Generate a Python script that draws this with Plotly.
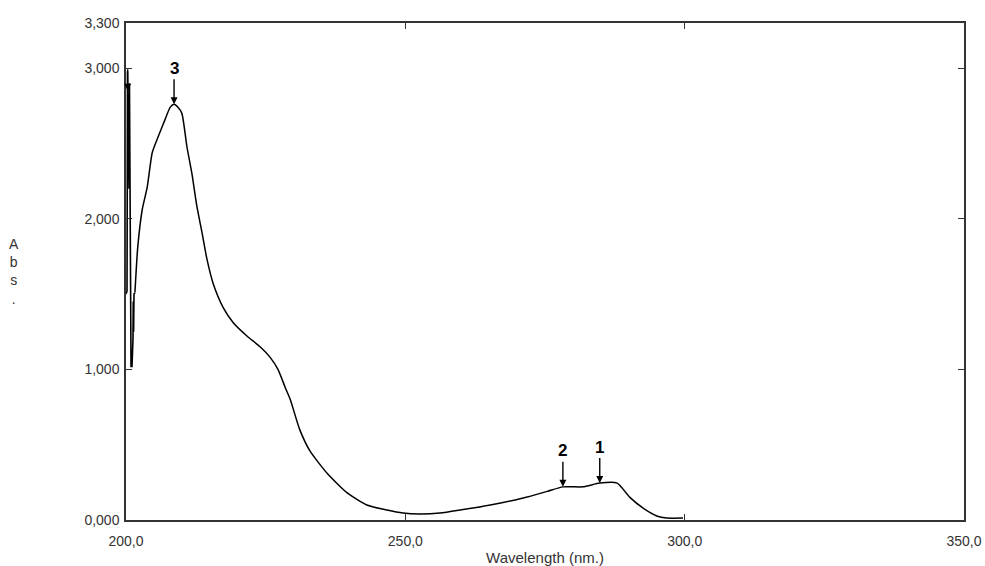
import plotly.graph_objects as go

# Absorbance spectrum (wavelength in nm, absorbance)
# noisy start of the scan near the lamp cut-off
spike_wl = [200.0, 200.18, 200.27, 200.36, 200.54, 200.62, 200.72, 200.9, 201.07, 201.25,
            201.3, 201.36, 201.43, 201.6]
spike_abs = [1.50, 1.52, 2.98, 2.80, 2.20, 2.90, 2.25, 1.02, 1.02, 1.20,
             1.45, 1.25, 1.50, 1.51]
# main band
wavelength = [201.6, 202.1, 202.9, 203.8, 204.7, 205.7, 207.0,
              207.9, 208.6, 209.3, 210.0, 210.9, 211.8, 212.7, 213.6, 214.5, 215.6,
              217.4, 219.2, 221.7, 224.0, 225.8, 227.2, 228.5, 229.4, 231.1, 232.9,
              236.0, 239.6, 243.1, 246.7, 249.6, 252.6, 256.2, 259.8, 265.2, 271.1,
              275.4, 278.2, 281.8, 284.8, 287.9, 290.2, 292.5, 295.0, 296.8, 299.7]
absorbance = [1.51, 1.81, 2.06, 2.21, 2.44, 2.54, 2.66,
              2.74, 2.76, 2.74, 2.70, 2.48, 2.30, 2.08, 1.91, 1.73, 1.57,
              1.41, 1.31, 1.22, 1.15, 1.08, 1.00, 0.88, 0.80, 0.60, 0.46,
              0.31, 0.18, 0.10, 0.066, 0.046, 0.040, 0.046, 0.066, 0.10, 0.146,
              0.19, 0.22, 0.22, 0.245, 0.245, 0.15, 0.08, 0.027, 0.013, 0.013]

# Picked peaks: label, wavelength, absorbance
peak_labels = ["", "3", "2", "1"]
peak_wl = [200.3, 208.6, 278.2, 284.8]
peak_abs = [2.85, 2.76, 0.22, 0.245]

x_ticks = [200, 250, 300, 350]
x_tick_text = ["200,0", "250,0", "300,0", "350,0"]
y_ticks = [0, 1, 2, 3, 3.3]
y_tick_text = ["0,000", "1,000", "2,000", "3,000", "3,300"]

FONT = "Liberation Sans"
TXT = "#333"

fig = go.Figure()
fig.add_trace(go.Scatter(x=spike_wl, y=spike_abs, mode="lines",
                         line=dict(color="black", width=1.6), hoverinfo="skip"))
fig.add_trace(go.Scatter(x=wavelength, y=absorbance, mode="lines",
                         line=dict(color="black", width=1.5, shape="spline", smoothing=0.6),
                         hoverinfo="skip"))

for lab, wl, ab in zip(peak_labels, peak_wl, peak_abs):
    fig.add_annotation(x=wl, y=ab, text=f"<b>{lab}</b>" if lab else "",
                       showarrow=True, arrowhead=2, arrowsize=1, arrowwidth=1.4,
                       arrowcolor="black", ax=0, ay=-36 if lab else -23,
                       font=dict(family=FONT, size=17, color="black"))

fig.add_annotation(x=-0.1337, y=0.5, xref="paper", yref="paper",
                   text="A<br>b<br>s<br>.", showarrow=False,
                   xanchor="center", yanchor="middle",
                   font=dict(family=FONT, size=14, color=TXT))

axis_common = dict(showgrid=False, zeroline=False, showline=True, mirror="ticks",
                   linecolor="#333", linewidth=1.5, ticks="inside", ticklen=6,
                   tickcolor="#333", tickwidth=1.3, automargin=False,
                   ticklabeloverflow="allow",
                   tickfont=dict(family=FONT, size=14, color=TXT))

fig.update_xaxes(range=[200, 350], tickvals=x_ticks, ticktext=x_tick_text,
                 title=dict(text="Wavelength (nm.)", standoff=5,
                            font=dict(family=FONT, size=15, color=TXT)),
                 ticklabelstandoff=7, **axis_common)
fig.update_yaxes(range=[0, 3.3], tickvals=y_ticks, ticktext=y_tick_text,
                 ticklabelstandoff=2, **axis_common)

fig.update_layout(width=985, height=566, margin=dict(l=126, r=21, t=23, b=46),
                  plot_bgcolor="white", paper_bgcolor="white", showlegend=False)

fig.write_html("out.html")
